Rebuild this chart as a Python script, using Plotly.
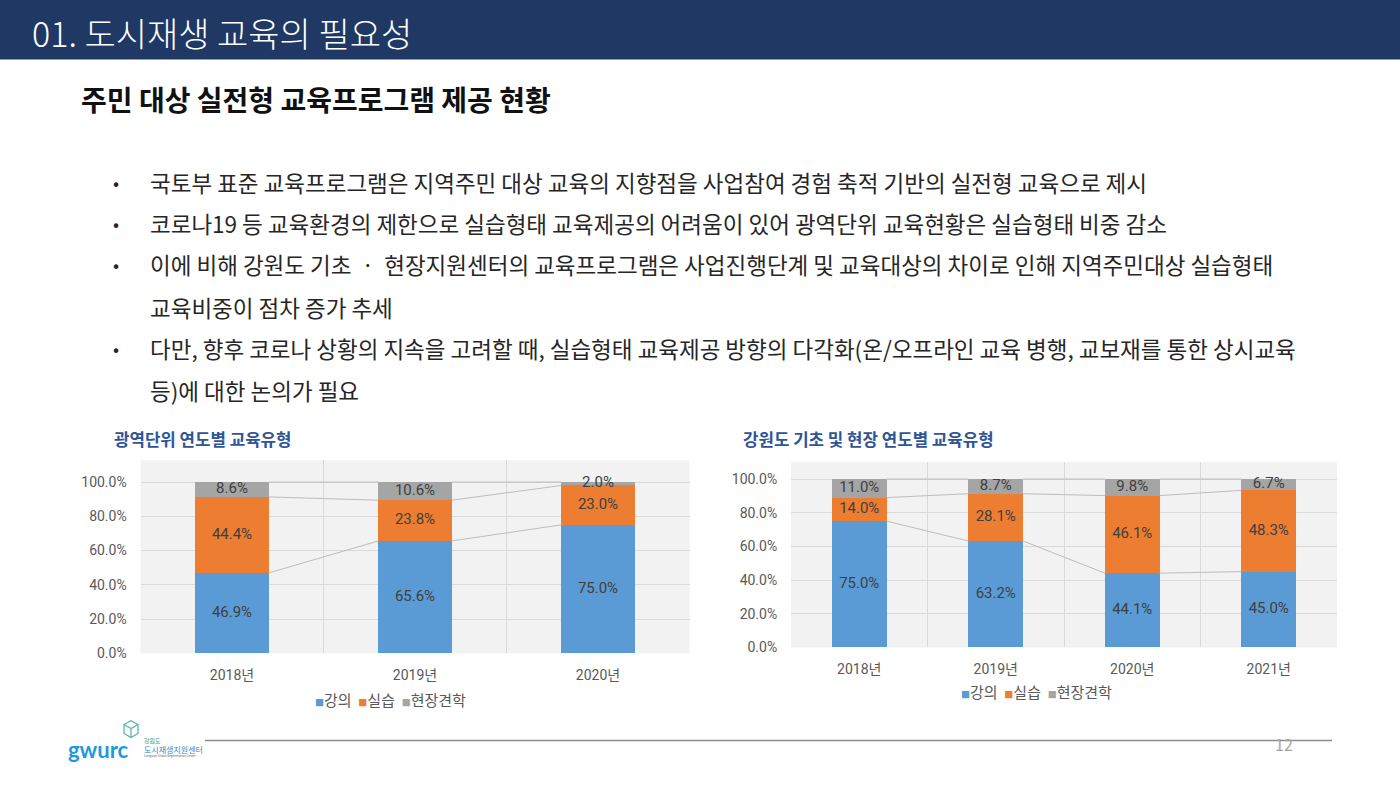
import plotly.graph_objects as go

W, H = 1400, 788

# ---------------- data ----------------
series_names = ["강의", "실습", "현장견학"]

years_left = ["2018년", "2019년", "2020년"]
lecture_left = [46.9, 65.6, 75.0]
practice_left = [44.4, 23.8, 23.0]
visit_left = [8.6, 10.6, 2.0]

years_right = ["2018년", "2019년", "2020년", "2021년"]
lecture_right = [75.0, 63.2, 44.1, 45.0]
practice_right = [14.0, 28.1, 46.1, 48.3]
visit_right = [11.0, 8.7, 9.8, 6.7]

y_ticks = [0, 20, 40, 60, 80, 100]
y_tick_labels = ["0.0%", "20.0%", "40.0%", "60.0%", "80.0%", "100.0%"]

header_title = "01. 도시재생 교육의 필요성"
sub_title = "주민 대상 실전형 교육프로그램 제공 현황"
bullets = [
    ["국토부 표준 교육프로그램은 지역주민 대상 교육의 지향점을 사업참여 경험 축적 기반의 실전형 교육으로 제시"],
    ["코로나19 등 교육환경의 제한으로 실습형태 교육제공의 어려움이 있어 광역단위 교육현황은 실습형태 비중 감소"],
    ["이에 비해 강원도 기초  ·  현장지원센터의 교육프로그램은 사업진행단계 및 교육대상의 차이로 인해 지역주민대상 실습형태",
     "교육비중이 점차 증가 추세"],
    ["다만, 향후 코로나 상황의 지속을 고려할 때, 실습형태 교육제공 방향의 다각화(온/오프라인 교육 병행, 교보재를 통한 상시교육",
     "등)에 대한 논의가 필요"],
]
chart_title_left = "광역단위 연도별 교육유형"
chart_title_right = "강원도 기초 및 현장 연도별 교육유형"
page_no = "12"

# ---------------- style ----------------
colors = ["#5B9BD5", "#ED7D31", "#A5A5A5"]
FONT = "Noto Sans CJK KR"
NUMFONT = "Roboto, Noto Sans CJK KR"
NAVY = "#1F3864"
AXIS_TXT = "#595959"
LABEL_TXT = "#404040"
BAR_W = 0.4


def px(x):
    return x / W


def py(y):
    return 1 - y / H


fig = go.Figure()


def add_chart(xa, ya, years, series):
    n = len(years)
    idx = list(range(n))
    base = [0.0] * n
    levels = []
    for name, vals, col in zip(series_names, series, colors):
        fig.add_trace(go.Bar(
            x=idx, y=vals, width=BAR_W, name=name, marker=dict(color=col, line=dict(width=0)),
            xaxis=xa, yaxis=ya, showlegend=False, hoverinfo="skip",
        ))
        mids = [b + v / 2 for b, v in zip(base, vals)]
        fig.add_trace(go.Scatter(
            x=idx, y=mids, mode="text", text=[f"{v:.1f}%" for v in vals],
            textfont=dict(family=NUMFONT, size=15, color=LABEL_TXT),
            xaxis=xa, yaxis=ya, showlegend=False, hoverinfo="skip",
        ))
        base = [b + v for b, v in zip(base, vals)]
        levels.append(list(base))
    # series lines joining the stacked levels of neighbouring bars
    lx, ly = [], []
    for lev in levels:
        for i in range(n - 1):
            lx += [i + BAR_W / 2, i + 1 - BAR_W / 2, None]
            ly += [lev[i], lev[i + 1], None]
    fig.add_trace(go.Scatter(
        x=lx, y=ly, mode="lines", line=dict(color="#BDBDBD", width=1),
        xaxis=xa, yaxis=ya, showlegend=False, hoverinfo="skip",
    ))


add_chart("x", "y", years_left, [lecture_left, practice_left, visit_left])
add_chart("x2", "y2", years_right, [lecture_right, practice_right, visit_right])


def xaxis_cfg(years, x0, x1):
    n = len(years)
    return dict(
        domain=[px(x0), px(x1)], range=[-0.5, n - 0.5],
        tickvals=list(range(n)), ticktext=years,
        showgrid=False, zeroline=False, showline=False,
        ticks="outside", ticklen=9, tickcolor="rgba(0,0,0,0)",
        tickfont=dict(family=NUMFONT, size=14, color=AXIS_TXT),
        minor=dict(tickvals=[i + 0.5 for i in range(n - 1)], showgrid=True,
                   gridcolor="#D9D9D9", gridwidth=1, ticks=""),
        fixedrange=True,
    )


def yaxis_cfg(top_px, bottom_px, top_val, anchor):
    return dict(
        domain=[py(bottom_px), py(top_px)], range=[0, top_val],
        tickvals=y_ticks, ticktext=y_tick_labels,
        showgrid=True, gridcolor="#D9D9D9", gridwidth=1,
        zeroline=False, showline=False,
        ticks="outside", ticklen=10, tickcolor="rgba(0,0,0,0)",
        tickfont=dict(family=NUMFONT, size=14, color=AXIS_TXT),
        anchor=anchor, fixedrange=True,
    )


fig.update_layout(
    width=W, height=H, margin=dict(l=0, r=0, t=0, b=0),
    paper_bgcolor="white", plot_bgcolor="#F2F2F2",
    barmode="stack", showlegend=False,
    font=dict(family=FONT, color="#262626"),
    xaxis=dict(xaxis_cfg(years_left, 140.5, 689.5), anchor="y"),
    yaxis=yaxis_cfg(465, 660, 112.7, "x"),
    xaxis2=dict(xaxis_cfg(years_right, 791, 1337), anchor="y2"),
    yaxis2=yaxis_cfg(467, 654, 110.0, "x2"),
)

shapes = [
    dict(type="rect", xref="paper", yref="paper", x0=0, x1=1, y0=py(60), y1=1,
         fillcolor=NAVY, line=dict(width=0), layer="below"),
    dict(type="line", xref="paper", yref="paper", x0=px(205), x1=px(1332), y0=py(748), y1=py(748),
         line=dict(color="#8C8C8C", width=1.5)),
    # logo cube
    dict(type="path", xref="paper", yref="paper",
         path=f"M {px(124)},{py(732)} L {px(131)},{py(728)} L {px(138)},{py(732)} L {px(138)},{py(741)} "
              f"L {px(131)},{py(745)} L {px(124)},{py(741)} Z",
         line=dict(color="#4FB3A9", width=1.2)),
    dict(type="path", xref="paper", yref="paper",
         path=f"M {px(124)},{py(732)} L {px(131)},{py(736)} L {px(138)},{py(732)} M {px(131)},{py(736)} L {px(131)},{py(745)}",
         line=dict(color="#4FB3A9", width=1.2)),
]
fig.update_layout(shapes=shapes)

ann = []


def text(x, y, s, size, color="#262626", weight=400, xanchor="left", family=FONT):
    ann.append(dict(xref="paper", yref="paper", x=px(x), y=py(y), text=s, showarrow=False,
                    xanchor=xanchor, yanchor="middle",
                    font=dict(family=family, size=size, color=color, weight=weight)))


text(30, 33, header_title, 34, "white", 300)
text(79, 100, sub_title, 28, "#111111", 700)

line_y = [184, 225, 267, 310, 352, 394]
k = 0
for b in bullets:
    text(111, line_y[k], "•", 18, "#262626")
    for ln in b:
        text(148, line_y[k], ln, 22.5, "#262626")
        k += 1

text(112, 444, chart_title_left, 16.8, "#2F5597", 700)
text(741, 444, chart_title_right, 16.8, "#2F5597", 700)

# legends (coloured square + series name)
legend_text = "&nbsp;&nbsp;".join(
    f"<span style='color:{c};font-size:9px'>■</span>{n}" for n, c in zip(series_names, colors)
)
text(390, 707, legend_text, 15, AXIS_TXT, xanchor="center")
text(1036, 699, legend_text, 15, AXIS_TXT, xanchor="center")

# logo
text(66, 757, "gwurc", 22, "#1C9ADB", 700, family="Lato")
text(142, 748, "강원도", 6, "#3E9E5C")
text(142, 757, "도시재생지원센터", 8, "#2A8FC9")
text(142, 764, "Gangwon Urban Regeneration Center", 3, "#666666")

text(1284, 752, page_no, 16, "#A6A6A6", 400, xanchor="center")

fig.update_layout(annotations=ann)

fig.write_html("out.html")
